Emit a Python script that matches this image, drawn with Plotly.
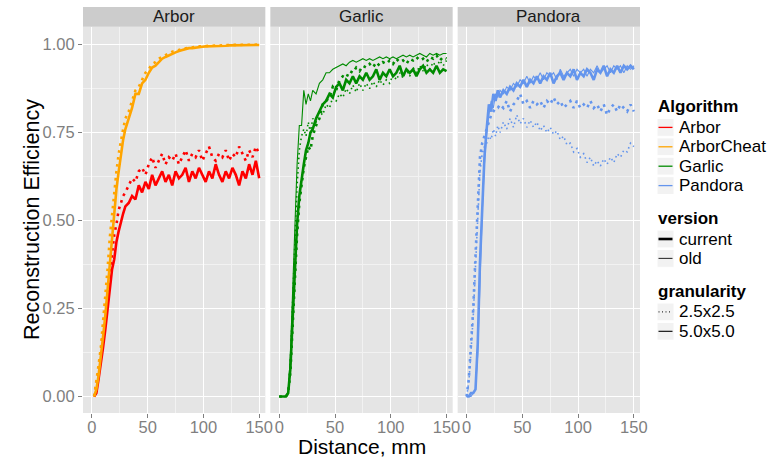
import plotly.graph_objects as go

# ---------------------------------------------------------------- data
FACETS = ["Arbor", "Garlic", "Pandora"]
ALGORITHMS = ["Arbor", "ArborCheat", "Garlic", "Pandora"]
VERSIONS = ["current", "old"]
GRANULARITIES = ["2.5x2.5", "5.0x5.0"]

X_TICKS = [0, 50, 100, 150]
Y_TICKS = [0.0, 0.25, 0.5, 0.75, 1.0]
Y_TICK_LABELS = ["0.00", "0.25", "0.50", "0.75", "1.00"]

# distance samples (mm)
DIST_ARBOR = [2, 4, 6, 8, 10, 12, 14, 16, 18, 20, 22, 24, 26, 28, 30,
              33, 36, 39, 42, 45, 48, 51, 54, 57, 60, 63, 66, 69, 72, 75,
              78, 81, 84, 87, 90, 93, 96, 99, 102, 105, 108, 111, 114, 117, 120,
              123, 126, 129, 132, 135, 138, 141, 144, 147, 150]
DIST = [0, 2, 4, 6, 8, 10, 12, 14, 16, 18, 20, 22, 24, 26, 28, 30,
        33, 36, 39, 42, 45, 48, 51, 54, 57, 60, 63, 66, 69, 72, 75,
        78, 81, 84, 87, 90, 93, 96, 99, 102, 105, 108, 111, 114, 117, 120,
        123, 126, 129, 132, 135, 138, 141, 144, 147, 150]

# Arbor facet
ARBOR_CUR_50 = [0.00, 0.01, 0.05, 0.09, 0.14, 0.19, 0.25, 0.31, 0.36, 0.39, 0.44, 0.47, 0.50, 0.52, 0.54,
                0.55, 0.57, 0.56, 0.60, 0.58, 0.61, 0.59, 0.63, 0.60, 0.62,
                0.64, 0.61, 0.63, 0.60, 0.64, 0.62, 0.63, 0.65, 0.61, 0.64,
                0.62, 0.65, 0.63, 0.61, 0.64, 0.62, 0.66, 0.63, 0.61, 0.64,
                0.62, 0.65, 0.63, 0.60, 0.64, 0.62, 0.66, 0.63, 0.67, 0.62]
ARBOR_CUR_25 = [0.00, 0.03, 0.07, 0.12, 0.18, 0.24, 0.30, 0.36, 0.42, 0.46, 0.49, 0.53, 0.55, 0.57, 0.58,
                0.60, 0.62, 0.61, 0.64, 0.65, 0.63, 0.66, 0.68, 0.65, 0.67,
                0.69, 0.66, 0.68, 0.67, 0.69, 0.66, 0.68, 0.70, 0.67, 0.69,
                0.68, 0.70, 0.67, 0.69, 0.71, 0.68, 0.67, 0.69, 0.68, 0.70,
                0.67, 0.69, 0.68, 0.71, 0.69, 0.67, 0.70, 0.68, 0.71, 0.69]
CHEAT_CUR_50 = [0.00, 0.02, 0.06, 0.11, 0.17, 0.23, 0.30, 0.38, 0.46, 0.53, 0.59, 0.64, 0.69, 0.73, 0.76,
                0.79, 0.82, 0.86, 0.86, 0.89, 0.90, 0.92, 0.935, 0.94, 0.95,
                0.96, 0.965, 0.97, 0.975, 0.978, 0.982, 0.985, 0.987, 0.99, 0.99,
                0.992, 0.993, 0.994, 0.995, 0.995, 0.996, 0.996, 0.997, 0.997, 0.997,
                0.998, 0.998, 0.998, 0.998, 0.999, 0.999, 0.999, 0.999, 0.999, 0.999]
CHEAT_CUR_25 = [0.00, 0.04, 0.09, 0.14, 0.21, 0.28, 0.36, 0.45, 0.52, 0.58, 0.64, 0.69, 0.73, 0.76, 0.79,
                0.81, 0.84, 0.87, 0.88, 0.90, 0.92, 0.93, 0.945, 0.95, 0.96,
                0.965, 0.97, 0.975, 0.98, 0.982, 0.985, 0.988, 0.99, 0.991, 0.993,
                0.994, 0.995, 0.996, 0.996, 0.997, 0.997, 0.998, 0.998, 0.998, 0.999,
                0.999, 0.999, 0.999, 1.0, 1.0, 1.0, 1.0, 1.0, 1.0, 1.0]

# Garlic facet
GARLIC_CUR_50 = [0, 0, 0, 0, 0.01, 0.08, 0.22, 0.37, 0.49, 0.57, 0.62, 0.66, 0.70, 0.72, 0.75, 0.76,
                 0.79, 0.81, 0.83, 0.84, 0.86, 0.85, 0.88, 0.89, 0.87, 0.90,
                 0.89, 0.91, 0.89, 0.91, 0.90, 0.92, 0.90, 0.91, 0.93, 0.90,
                 0.92, 0.91, 0.93, 0.91, 0.92, 0.94, 0.91, 0.93, 0.92, 0.93,
                 0.91, 0.93, 0.94, 0.92, 0.93, 0.92, 0.94, 0.92, 0.93, 0.925]
GARLIC_OLD_50 = [0, 0, 0, 0, 0.01, 0.12, 0.30, 0.48, 0.66, 0.77, 0.77, 0.87, 0.83, 0.86, 0.84, 0.87,
                 0.86, 0.89, 0.90, 0.92, 0.92, 0.93, 0.935, 0.94, 0.945, 0.94,
                 0.95, 0.955, 0.95, 0.955, 0.96, 0.955, 0.96, 0.955, 0.96, 0.965,
                 0.96, 0.965, 0.96, 0.965, 0.96, 0.965, 0.97, 0.965, 0.97, 0.965,
                 0.97, 0.975, 0.97, 0.965, 0.975, 0.97, 0.975, 0.97, 0.975, 0.975]
GARLIC_CUR_25 = [0, 0, 0, 0, 0.01, 0.07, 0.20, 0.34, 0.46, 0.55, 0.61, 0.65, 0.68, 0.71, 0.70, 0.74,
                 0.77, 0.79, 0.83, 0.84, 0.85, 0.88, 0.87, 0.90, 0.91, 0.905,
                 0.925, 0.92, 0.935, 0.925, 0.94, 0.935, 0.945, 0.935, 0.95, 0.94,
                 0.95, 0.945, 0.955, 0.945, 0.96, 0.95, 0.955, 0.945, 0.96, 0.955,
                 0.965, 0.955, 0.96, 0.95, 0.965, 0.96, 0.97, 0.955, 0.965, 0.96]
GARLIC_OLD_25 = [0, 0, 0, 0, 0.01, 0.10, 0.27, 0.44, 0.60, 0.70, 0.74, 0.76, 0.74, 0.78, 0.75, 0.79,
                 0.78, 0.81, 0.80, 0.83, 0.82, 0.85, 0.84, 0.86, 0.85, 0.875,
                 0.86, 0.885, 0.865, 0.89, 0.87, 0.89, 0.875, 0.895, 0.88, 0.90,
                 0.885, 0.90, 0.89, 0.915, 0.90, 0.92, 0.905, 0.93, 0.91, 0.935,
                 0.92, 0.94, 0.925, 0.945, 0.93, 0.95, 0.935, 0.955, 0.94, 0.955]

# Pandora facet
PANDORA_CUR_50 = [0, 0, 0.01, 0.01, 0.02, 0.15, 0.38, 0.55, 0.68, 0.76, 0.83, 0.81, 0.86, 0.84, 0.87, 0.85,
                  0.87, 0.86, 0.88, 0.87, 0.89, 0.88, 0.90, 0.88, 0.90, 0.89,
                  0.91, 0.89, 0.91, 0.90, 0.92, 0.89, 0.91, 0.92, 0.90, 0.92,
                  0.91, 0.93, 0.90, 0.92, 0.91, 0.93, 0.92, 0.90, 0.93, 0.92,
                  0.94, 0.91, 0.93, 0.92, 0.94, 0.92, 0.94, 0.93, 0.94, 0.93]
PANDORA_OLD_50 = [0, 0, 0, 0.01, 0.02, 0.12, 0.33, 0.52, 0.66, 0.75, 0.80, 0.84, 0.82, 0.86, 0.85, 0.87,
                  0.86, 0.88, 0.87, 0.89, 0.88, 0.90, 0.89, 0.91, 0.89, 0.91,
                  0.90, 0.92, 0.90, 0.92, 0.91, 0.92, 0.90, 0.93, 0.91, 0.92,
                  0.93, 0.91, 0.93, 0.92, 0.93, 0.91, 0.93, 0.92, 0.94, 0.92,
                  0.93, 0.94, 0.92, 0.94, 0.93, 0.94, 0.92, 0.94, 0.93, 0.94]
PANDORA_CUR_25 = [0.0, 0.05, 0.15, 0.25, 0.40, 0.55, 0.68, 0.72, 0.74, 0.76, 0.78, 0.80, 0.81, 0.82, 0.82, 0.83,
                  0.82, 0.84, 0.81, 0.83, 0.84, 0.86, 0.83, 0.84, 0.82, 0.84,
                  0.83, 0.84, 0.82, 0.84, 0.83, 0.85, 0.83, 0.84, 0.82, 0.83,
                  0.84, 0.82, 0.84, 0.82, 0.83, 0.82, 0.84, 0.82, 0.83, 0.81,
                  0.83, 0.80, 0.82, 0.83, 0.81, 0.83, 0.82, 0.81, 0.83, 0.81]
PANDORA_OLD_25 = [0.0, 0.04, 0.13, 0.23, 0.37, 0.52, 0.64, 0.69, 0.71, 0.72, 0.74, 0.73, 0.76, 0.74, 0.77, 0.75,
                  0.78, 0.76, 0.79, 0.765, 0.80, 0.775, 0.79, 0.765, 0.785, 0.765,
                  0.78, 0.755, 0.77, 0.75, 0.765, 0.745, 0.755, 0.73, 0.74, 0.715,
                  0.72, 0.695, 0.705, 0.68, 0.69, 0.665, 0.68, 0.655, 0.67, 0.655,
                  0.675, 0.66, 0.68, 0.665, 0.69, 0.68, 0.70, 0.695, 0.72, 0.71]

# (facet, algorithm, version, granularity, distance, efficiency)
SERIES = [
    ("Arbor", "Arbor", "current", "2.5x2.5", DIST_ARBOR, ARBOR_CUR_25),
    ("Arbor", "Arbor", "current", "5.0x5.0", DIST_ARBOR, ARBOR_CUR_50),
    ("Arbor", "ArborCheat", "current", "2.5x2.5", DIST_ARBOR, CHEAT_CUR_25),
    ("Arbor", "ArborCheat", "current", "5.0x5.0", DIST_ARBOR, CHEAT_CUR_50),
    ("Garlic", "Garlic", "old", "2.5x2.5", DIST, GARLIC_OLD_25),
    ("Garlic", "Garlic", "old", "5.0x5.0", DIST, GARLIC_OLD_50),
    ("Garlic", "Garlic", "current", "2.5x2.5", DIST, GARLIC_CUR_25),
    ("Garlic", "Garlic", "current", "5.0x5.0", DIST, GARLIC_CUR_50),
    ("Pandora", "Pandora", "old", "2.5x2.5", DIST, PANDORA_OLD_25),
    ("Pandora", "Pandora", "old", "5.0x5.0", DIST, PANDORA_OLD_50),
    ("Pandora", "Pandora", "current", "2.5x2.5", DIST, PANDORA_CUR_25),
    ("Pandora", "Pandora", "current", "5.0x5.0", DIST, PANDORA_CUR_50),
]

# ---------------------------------------------------------------- styles
COLOURS = {"Arbor": "#FF0000", "ArborCheat": "#FFA500",
           "Garlic": "#008B00", "Pandora": "#6495ED"}
WIDTHS = {"current": 2.6, "old": 1.1}


def dash_for(granularity, version):
    if granularity == "5.0x5.0":
        return "solid"
    return "2.6px,4.4px" if version == "current" else "1.6px,3.2px"


def width_for(granularity, version):
    if granularity == "2.5x2.5" and version == "old":
        return 1.6
    return WIDTHS[version]


FONT = "Liberation Sans, Arial, Helvetica, sans-serif"
GREY_TXT = "#7F7F7F"
PANEL_BG = "#E5E5E5"
STRIP_BG = "#CCCCCC"

# ---------------------------------------------------------------- geometry
W, H = 775, 460
ML, MR, MT, MB = 83, 135, 7, 47
PW, PH = W - ML - MR, H - MT - MB
GAP = 5
PANEL_W = (PW - 2 * GAP) / 3
STRIP_H = 19.7
Y_TOP = (PH - STRIP_H) / PH
X_RANGE = [-8, 155.5]
Y_RANGE = [-0.047, 1.051]


def fx(px):
    return (px - ML) / PW


def fy(py):
    return (H - MB - py) / PH


fig = go.Figure()

# ---------------------------------------------------------------- traces
for facet, algo, version, gran, xs, ys in SERIES:
    i = FACETS.index(facet) + 1
    fig.add_trace(go.Scatter(
        x=xs, y=ys, mode="lines",
        xaxis="x" if i == 1 else f"x{i}",
        yaxis="y" if i == 1 else f"y{i}",
        line=dict(color=COLOURS[algo], width=width_for(gran, version),
                  dash=dash_for(gran, version)),
        showlegend=False, hoverinfo="skip",
    ))

# ---------------------------------------------------------------- axes
layout = dict(
    width=W, height=H,
    margin=dict(l=ML, r=MR, t=MT, b=MB),
    paper_bgcolor="white", plot_bgcolor=PANEL_BG,
    font=dict(family=FONT, color="black"),
    showlegend=False,
)
shapes, annotations = [], []
for k, facet in enumerate(FACETS):
    i = k + 1
    x0 = k * (PANEL_W + GAP) / PW
    x1 = (k * (PANEL_W + GAP) + PANEL_W) / PW
    xname = "xaxis" if i == 1 else f"xaxis{i}"
    yname = "yaxis" if i == 1 else f"yaxis{i}"
    layout[xname] = dict(
        domain=[x0, x1], range=X_RANGE, anchor="y" if i == 1 else f"y{i}",
        tickmode="array", tickvals=X_TICKS, ticktext=[str(v) for v in X_TICKS],
        ticks="outside", ticklen=4, tickwidth=1, tickcolor=GREY_TXT,
        ticklabelstandoff=-5,
        tickfont=dict(size=16.5, color=GREY_TXT, family=FONT),
        showgrid=True, gridcolor="white", gridwidth=1.1,
        minor=dict(tickmode="array", tickvals=[25, 75, 125], showgrid=True,
                   gridcolor="#F2F2F2", gridwidth=0.6, ticks=""),
        zeroline=False, showline=False, fixedrange=True,
    )
    layout[yname] = dict(
        domain=[0, Y_TOP], range=Y_RANGE, anchor="x" if i == 1 else f"x{i}",
        tickmode="array", tickvals=Y_TICKS, ticktext=Y_TICK_LABELS,
        ticks="outside" if i == 1 else "", ticklen=4, tickwidth=1,
        tickcolor=GREY_TXT, showticklabels=(i == 1),
        tickfont=dict(size=16.5, color=GREY_TXT, family=FONT),
        showgrid=True, gridcolor="white", gridwidth=1.1,
        minor=dict(tickmode="array", tickvals=[0.125, 0.375, 0.625, 0.875],
                   showgrid=True, gridcolor="#F2F2F2", gridwidth=0.6, ticks=""),
        zeroline=False, showline=False, fixedrange=True,
    )
    # facet strip
    shapes.append(dict(type="rect", xref="paper", yref="paper",
                       x0=x0, x1=x1, y0=Y_TOP, y1=1.0,
                       fillcolor=STRIP_BG, line=dict(width=0), layer="below"))
    annotations.append(dict(text=facet, xref="paper", yref="paper",
                            x=(x0 + x1) / 2, y=(Y_TOP + 1.0) / 2,
                            xanchor="center", yanchor="middle", showarrow=False,
                            font=dict(size=17, color="#1A1A1A", family=FONT)))

# axis titles
annotations.append(dict(text="Distance, mm", xref="paper", yref="paper",
                        x=0.5, y=fy(459), xanchor="center", yanchor="bottom",
                        borderpad=0, showarrow=False,
                        font=dict(size=21, color="black", family=FONT)))
annotations.append(dict(text="Reconstruction Efficiency", xref="paper", yref="paper",
                        x=fx(32), y=fy(220), xanchor="center", yanchor="middle",
                        textangle=-90, showarrow=False,
                        font=dict(size=21.5, color="black", family=FONT)))

# ---------------------------------------------------------------- legend
legend_groups = [
    ("Algorithm", 106.7,
     [(a, dict(color=COLOURS[a], width=1.3, dash="solid")) for a in ALGORITHMS]),
    ("version", 218.3,
     [("current", dict(color="black", width=2.6, dash="solid")),
      ("old", dict(color="#333333", width=1.1, dash="solid"))]),
    ("granularity", 291.2,
     [("2.5x2.5", dict(color="#333333", width=1.1, dash="1px,2.5px")),
      ("5.0x5.0", dict(color="black", width=1.1, dash="solid"))]),
]
KEY_L, KEY_R, TXT_L = 657, 674, 678
for title, ty, entries in legend_groups:
    annotations.append(dict(text=f"<b>{title}</b>", xref="paper", yref="paper",
                            x=fx(KEY_L - 1), y=fy(ty), xanchor="left", yanchor="middle",
                            showarrow=False, font=dict(size=17, color="black", family=FONT)))
    for j, (label, style) in enumerate(entries):
        cy = ty + 20.7 + j * 19.4
        shapes.append(dict(type="rect", xref="paper", yref="paper",
                           x0=fx(KEY_L), x1=fx(KEY_R), y0=fy(cy + 8.9), y1=fy(cy - 8.9),
                           fillcolor="#F2F2F2", line=dict(color="white", width=1)))
        shapes.append(dict(type="line", xref="paper", yref="paper",
                           x0=fx(KEY_L + 1.5), x1=fx(KEY_R - 1.5), y0=fy(cy), y1=fy(cy),
                           line=style))
        annotations.append(dict(text=label, xref="paper", yref="paper",
                                x=fx(TXT_L - 1), y=fy(cy), xanchor="left", yanchor="middle",
                                showarrow=False,
                                font=dict(size=17, color="black", family=FONT)))

layout["shapes"] = shapes
layout["annotations"] = annotations
fig.update_layout(**layout)

fig.write_html("out.html")
